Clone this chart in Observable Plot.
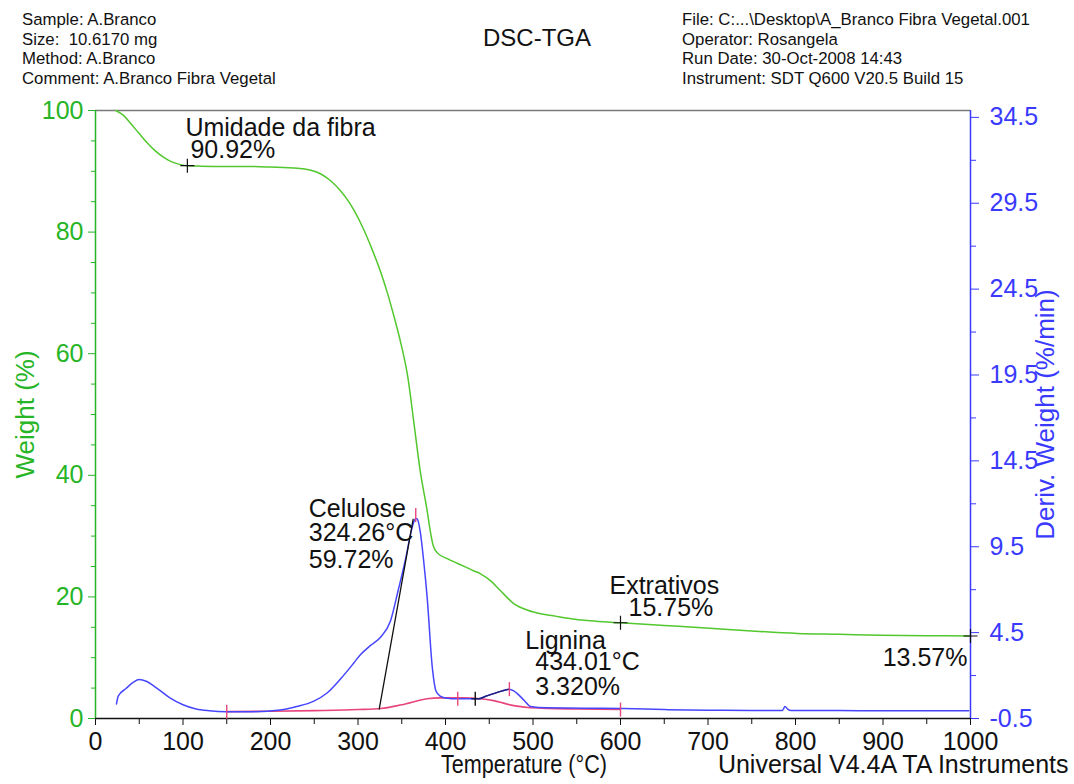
<!DOCTYPE html>
<html>
<head>
<meta charset="utf-8">
<script src="https://cdn.jsdelivr.net/npm/d3@7"></script>
<script src="https://cdn.jsdelivr.net/npm/@observablehq/plot@0.6"></script>
<style>
  body { margin: 0; background: #fff; }
  #wrap { position: relative; width: 1074px; height: 784px; font-family: "Liberation Sans", Arial, sans-serif; overflow: hidden; }
  #chart { position: absolute; left: 0; top: 0; }
  .hdr { position: absolute; font-size: 16.8px; line-height: 19.5px; color: #111; white-space: pre; z-index: 2; }
  #hl { left: 22px; top: 10px; }
  #hr { left: 682px; top: 10px; }
  #title { position: absolute; left: 0; width: 1074px; top: 24px; text-align: center; font-size: 24px; line-height: 28px; color: #111; z-index: 2; }
</style>
</head>
<body>
<div id="wrap">
  <div id="chart"></div>
  <div class="hdr" id="hl"></div>
  <div class="hdr" id="hr"></div>
  <div id="title"></div>
</div>
<script>
// ---------- header texts ----------
const titleText = "DSC-TGA";
const headerLeft = ["Sample: A.Branco", "Size:  10.6170 mg", "Method: A.Branco", "Comment: A.Branco Fibra Vegetal"];
const headerRight = ["File: C:...\\Desktop\\A_Branco Fibra Vegetal.001", "Operator: Rosangela", "Run Date: 30-Oct-2008 14:43", "Instrument: SDT Q600 V20.5 Build 15"];

// ---------- ticks ----------
const xTicks = [0, 100, 200, 300, 400, 500, 600, 700, 800, 900, 1000];
const xMinor = [50, 150, 250, 350, 450, 550, 650, 750, 850, 950];
const leftTicks = [0, 20, 40, 60, 80, 100];
const leftMinor = [5, 10, 15, 25, 30, 35, 45, 50, 55, 65, 70, 75, 85, 90, 95];
const rightTicks = [-0.5, 4.5, 9.5, 14.5, 19.5, 24.5, 29.5, 34.5];
const rightMinor = [2, 7, 12, 17, 22, 27, 32];
const rightDomain = [-0.5, 34.9];

// ---------- TGA: weight (%) vs temperature ----------
const tgaTemp = [23, 32, 40, 50, 59, 68, 78, 88, 97, 105, 120, 150, 174, 200, 231, 245, 257, 269, 280, 288, 295, 306, 316, 326, 334, 341, 349, 357, 364, 371, 379, 383, 386, 391, 402, 414, 432, 440, 452, 463, 478, 494, 510, 523, 540, 562, 580, 600, 650, 706, 750, 802, 850, 897, 950, 1000];
const tgaWeight = [100, 99.2, 97.9, 96.2, 94.7, 93.4, 92.3, 91.5, 91.1, 90.92, 90.85, 90.8, 90.8, 90.7, 90.5, 90.2, 89.6, 88.4, 86.8, 85.3, 83.7, 80.6, 77.2, 73.4, 69.8, 66.2, 61.7, 56.1, 48.5, 40.8, 34.2, 30.5, 28.4, 27.2, 26.3, 25.5, 24.3, 23.8, 22.6, 21, 18.9, 17.8, 17.2, 16.9, 16.5, 16.1, 15.9, 15.75, 15.3, 14.8, 14.4, 14.0, 13.85, 13.7, 13.62, 13.57];

// ---------- DTG: deriv. weight (%/min) vs temperature ----------
const dtgTemp = [24, 26, 35, 43, 50, 58, 70, 85, 100, 115, 130, 150, 180, 211, 230, 249, 265, 280, 295, 303, 314, 326, 337, 346, 354, 360, 363, 366, 368, 371, 375, 379, 385, 389, 394, 400, 414, 430, 438, 446, 455, 465, 473, 478, 482, 490, 497, 516, 560, 603, 650, 700, 750, 785, 788, 791, 795, 850, 900, 950, 998];
const dtgValue = [0.35, 0.8, 1.25, 1.6, 1.77, 1.67, 1.27, 0.7, 0.3, 0.05, -0.05, -0.1, -0.1, 0.0, 0.2, 0.5, 1.0, 1.8, 2.72, 3.23, 3.74, 4.25, 5.16, 6.98, 8.7, 10.22, 10.83, 11.15, 11.1, 10.42, 8.7, 6.58, 2.43, 1.12, 0.8, 0.7, 0.65, 0.65, 0.65, 0.8, 0.95, 1.11, 1.21, 1.11, 0.95, 0.55, 0.2, 0.12, 0.1, 0.08, 0.02, -0.02, -0.03, -0.03, 0.2, 0.05, -0.03, -0.04, -0.05, -0.05, -0.05];

// ---------- integration baseline (pink) ----------
const baseTemp = [150, 200, 250, 300, 326, 350, 379, 393, 420, 440, 455, 478, 497, 550, 600];
const baseValue = [-0.1, -0.08, -0.04, 0.02, 0.08, 0.3, 0.65, 0.7, 0.7, 0.65, 0.54, 0.25, 0.13, 0.05, 0.02];

// ---------- Celulose onset tangent ----------
const celTemp = [324.26, 363];
const celValue = [0.05, 11.1];

// ---------- analysis results ----------
const wMarkTemp = [105, 600, 1000];
const wMarkValue = [90.92, 15.75, 13.57];
const redTickTemp = [150, 366, 414, 473, 600];
const redTickValue = [-0.1, 11.35, 0.65, 1.21, 0.02];
const celulose = { onset: 324.26, loss: 59.72, peakT: 366, peakD: 11.15 };
const lignina = { onset: 434.01, loss: 3.320, d: 0.65, end: 473 };

// ---------- styles ----------
const GREEN = "#52c72e", GREEN_TXT = "#26b526", BLUE = "#4646ff", BLUE_TXT = "#3a3aff", PINK = "#e8457c";
const FONT = "'Liberation Sans', Arial, sans-serif";

// map right axis values onto the left (weight) scale
const toW = d => (d - rightDomain[0]) * 100 / (rightDomain[1] - rightDomain[0]);
const fromW = w => w * (rightDomain[1] - rightDomain[0]) / 100 + rightDomain[0];

const tga = tgaTemp.map((t, i) => ({t, w: tgaWeight[i]}));
const dtg = dtgTemp.map((t, i) => ({t, w: toW(dtgValue[i])}));
const dtgLig = dtg.filter(d => d.t >= 430 && d.t <= lignina.end);
const base = baseTemp.map((t, i) => ({t, w: toW(baseValue[i])}));
const cel = celTemp.map((t, i) => ({t, w: toW(celValue[i])}));
const wMarks = wMarkTemp.map((t, i) => ({t, w: wMarkValue[i]}));
const redTicks = redTickTemp.map((t, i) => ({t, w: toW(redTickValue[i])}));

const plusSym = { draw(ctx, size) { const r = Math.sqrt(size / Math.PI); ctx.moveTo(-r, 0); ctx.lineTo(r, 0); ctx.moveTo(0, -r); ctx.lineTo(0, r); } };
const vSym = { draw(ctx, size) { const r = Math.sqrt(size / Math.PI); ctx.moveTo(0, -r); ctx.lineTo(0, r); } };

function note(x, y, text, dx, dy, textAnchor = "start") {
  return Plot.text([text], {x: () => x, y: () => y, text: d => d, dx, dy, textAnchor, lineAnchor: "middle", fontSize: 25, fill: "#111"});
}

const chart = Plot.plot({
  width: 1074,
  height: 784,
  marginTop: 110,
  marginBottom: 66,
  marginLeft: 95,
  marginRight: 104,
  style: { fontFamily: FONT, background: "white", overflow: "visible" },
  x: { domain: [0, 1000] },
  y: { domain: [0, 100] },
  marks: [
    // frame lines
    Plot.ruleY([100], { stroke: "#7a7a7a", strokeWidth: 1.5 }),
    // bottom axis
    Plot.axisX({ ticks: xTicks, tickSize: 7, tickPadding: 7, fontSize: 25, tickFormat: d => String(d), label: null, color: "#111" }),
    Plot.axisX({ ticks: xMinor, tickSize: 6, text: null, label: null, color: "#111" }),
    // left axis
    Plot.axisY({ anchor: "left", ticks: leftTicks, tickSize: 7, tickPadding: 5, fontSize: 25, tickFormat: d => String(d), label: null, color: GREEN_TXT }),
    Plot.axisY({ anchor: "left", ticks: leftMinor, tickSize: 4, text: null, label: null, color: GREEN_TXT }),
    // right axis
    Plot.axisY({ anchor: "right", ticks: rightTicks.map(toW), tickSize: 8, tickPadding: 11, fontSize: 25, tickFormat: w => fromW(w).toFixed(1), label: null, color: BLUE_TXT }),
    Plot.axisY({ anchor: "right", ticks: rightMinor.map(toW), tickSize: 5, text: null, label: null, color: BLUE_TXT }),
    Plot.ruleX([0], { stroke: GREEN_TXT, strokeWidth: 1.5 }),
    Plot.ruleX([1000], { stroke: BLUE_TXT, strokeWidth: 1.5 }),
    Plot.ruleY([0], { stroke: "#111", strokeWidth: 1.5 }),
    // axis titles
    Plot.text(["Weight (%)"], { frameAnchor: "left", textAnchor: "middle", rotate: -90, dx: -70, fontSize: 26, fill: GREEN_TXT }),
    Plot.text(["Deriv. Weight (%/min)"], { frameAnchor: "right", textAnchor: "middle", rotate: -90, dx: 75, fontSize: 26, fill: BLUE_TXT }),
    Plot.text(["Temperature (°C)"], { frameAnchor: "bottom", textAnchor: "middle", dx: -9, dy: 54, fontSize: 25, fill: "#111" }),
    Plot.text(["Universal V4.4A TA Instruments"], { frameAnchor: "bottom-right", textAnchor: "end", dx: 98, dy: 54, fontSize: 25, fill: "#111" }),
    // curves
    Plot.line(base, { x: "t", y: "w", stroke: PINK, strokeWidth: 1.6, curve: "monotone-x" }),
    Plot.line(dtg, { x: "t", y: "w", stroke: BLUE, strokeWidth: 1.5, curve: "monotone-x" }),
    Plot.line(dtgLig, { x: "t", y: "w", stroke: "#1c1c70", strokeWidth: 1.4, curve: "monotone-x" }),
    Plot.line(cel, { x: "t", y: "w", stroke: "#111", strokeWidth: 1.3 }),
    Plot.line(tga, { x: "t", y: "w", stroke: GREEN, strokeWidth: 1.5, curve: "monotone-x" }),
    // markers
    Plot.dot(wMarks, { x: "t", y: "w", symbol: plusSym, r: 7, stroke: "#111", fill: "none", strokeWidth: 1.2 }),
    Plot.dot(redTicks, { x: "t", y: "w", symbol: vSym, r: 7, stroke: PINK, fill: "none", strokeWidth: 1.4 }),
    Plot.dot([lignina], { x: d => d.onset, y: d => toW(d.d), symbol: vSym, r: 7, stroke: "#111", fill: "none", strokeWidth: 1.4 }),
    // annotations
    note(wMarkTemp[0], wMarkValue[0], "Umidade da fibra", -2, -38),
    note(wMarkTemp[0], wMarkValue[0], `${wMarkValue[0].toFixed(2)}%`, 3, -16),
    note(celulose.peakT, toW(celulose.peakD), "Celulose", -107, -9),
    note(celulose.peakT, toW(celulose.peakD), `${celulose.onset.toFixed(2)}°C`, -107, 15),
    note(celulose.peakT, toW(celulose.peakD), `${celulose.loss.toFixed(2)}%`, -107, 42),
    note(lignina.onset, toW(lignina.d), "Lignina", 50, -58),
    note(lignina.onset, toW(lignina.d), `${lignina.onset.toFixed(2)}°C`, 60, -37),
    note(lignina.onset, toW(lignina.d), `${lignina.loss.toFixed(3)}%`, 60, -12),
    note(wMarkTemp[1], wMarkValue[1], "Extrativos", -11, -37),
    note(wMarkTemp[1], wMarkValue[1], `${wMarkValue[1].toFixed(2)}%`, 8, -15),
    note(wMarkTemp[2], wMarkValue[2], `${wMarkValue[2].toFixed(2)}%`, -3, 22, "end")
  ]
});
// the instrument's x-axis title is set in a condensed face
d3.select(chart).selectAll("text")
  .filter(function() { return this.textContent === "Temperature (°C)"; })
  .attr("textLength", 166).attr("lengthAdjust", "spacingAndGlyphs");
document.getElementById("chart").appendChild(chart);
document.getElementById("hl").textContent = headerLeft.join("\n");
document.getElementById("hr").textContent = headerRight.join("\n");
document.getElementById("title").textContent = titleText;
</script>
</body>
</html>
